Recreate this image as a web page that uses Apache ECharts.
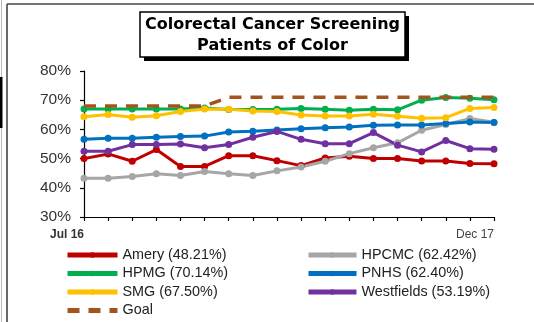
<!DOCTYPE html>
<html>
<head>
<meta charset="utf-8">
<script src="https://cdn.jsdelivr.net/npm/echarts@6/dist/echarts.min.js"></script>
<style>
  html, body { margin: 0; padding: 0; background: #fff; }
  #chart { width: 534px; height: 322px; }
</style>
</head>
<body>
<div id="chart"></div>
<script>
// Monthly screening rates, Jul 2016 – Dec 2017
const months = ['Jul 16', 'Aug 16', 'Sep 16', 'Oct 16', 'Nov 16', 'Dec 16',
  'Jan 17', 'Feb 17', 'Mar 17', 'Apr 17', 'May 17', 'Jun 17',
  'Jul 17', 'Aug 17', 'Sep 17', 'Oct 17', 'Nov 17', 'Dec 17'];

const amery      = [50.0, 51.6, 49.1, 53.1, 47.3, 47.3, 51.0, 51.0, 49.3, 47.6, 50.2, 50.8, 50.0, 50.0, 49.2, 49.2, 48.3, 48.21];
const hpcmc      = [43.3, 43.3, 43.9, 44.8, 44.2, 45.6, 44.8, 44.2, 45.8, 47.1, 49.1, 51.7, 53.7, 55.4, 59.7, 61.7, 63.7, 62.42];
const hpmg       = [67.0, 67.0, 67.0, 67.0, 67.0, 67.3, 66.8, 66.8, 66.9, 67.2, 66.9, 66.6, 66.9, 66.7, 70.0, 70.9, 70.7, 70.14];
const pnhs       = [56.6, 57.0, 57.0, 57.3, 57.6, 57.7, 59.1, 59.4, 59.8, 60.2, 60.6, 60.8, 61.4, 61.5, 61.5, 62.0, 62.5, 62.40];
const smg        = [64.3, 65.1, 64.2, 64.7, 66.1, 67.0, 66.9, 66.3, 66.1, 64.9, 64.6, 64.6, 65.2, 64.5, 63.8, 64.0, 67.2, 67.50];
const westfields = [52.5, 52.5, 54.8, 54.8, 55.0, 53.7, 54.8, 57.3, 59.3, 56.6, 55.1, 55.1, 58.9, 54.6, 52.3, 56.2, 53.4, 53.19];
const goal       = [68, 68, 68, 68, 68, 68, 71, 71, 71, 71, 71, 71, 71, 71, 71, 71, 71, 71];

const yTicks = [30, 40, 50, 60, 70, 80];

const sites = [
  { name: 'Amery',      data: amery,      color: '#C00000' },
  { name: 'HPCMC',      data: hpcmc,      color: '#A6A6A6' },
  { name: 'HPMG',       data: hpmg,       color: '#00B050' },
  { name: 'PNHS',       data: pnhs,       color: '#0070C0' },
  { name: 'SMG',        data: smg,        color: '#FFC000' },
  { name: 'Westfields', data: westfields, color: '#7030A0' }
];

// legend label carries the latest month's rate
const label = s => s.name + ' (' + s.data[s.data.length - 1].toFixed(2) + '%)';

const series = sites.map(s => ({
  name: label(s),
  type: 'line',
  data: s.data,
  color: s.color,
  symbol: 'circle',
  symbolSize: 7,
  lineStyle: { width: 3, color: s.color },
  itemStyle: { color: s.color },
  emphasis: { disabled: true },
  animation: false
}));
series.push({
  name: 'Goal',
  type: 'line',
  data: goal,
  color: '#A3541C',
  symbol: 'none',
  lineStyle: { width: 3.5, color: '#A3541C', type: [12, 9] },
  emphasis: { disabled: true },
  animation: false,
  z: 5
});

const legendText = { fontFamily: 'Liberation Sans, Arial, sans-serif', fontSize: 14.4, lineHeight: 14, color: '#222' };
const legendBase = {
  orient: 'vertical',
  top: 248,
  height: 80,
  padding: 0,
  itemHeight: 7,
  itemGap: 4.5,
  lineStyle: { width: 5 },
  textStyle: legendText,
  selectedMode: false
};

const chart = echarts.init(document.getElementById('chart'), null, { renderer: 'canvas' });
chart.setOption({
  animation: false,
  backgroundColor: '#fff',
  grid: { left: 84, right: 40, top: 71, bottom: 105, containLabel: false },
  xAxis: {
    type: 'category',
    data: months,
    boundaryGap: false,
    axisLine: { lineStyle: { color: '#000', width: 1.2 } },
    axisTick: { show: true, interval: 0, length: 4, lineStyle: { color: '#000', width: 1.2 } },
    axisLabel: {
      interval: 0,
      align: 'right',
      margin: 12,
      formatter: (v, i) => i === 0 ? '{b|' + v + '}' : (i === months.length - 1 ? '{n|' + v + '}' : ''),
      rich: {
        b: { fontFamily: 'Liberation Sans, Arial, sans-serif', fontSize: 12, fontWeight: 'bold', color: '#333' },
        n: { fontFamily: 'Liberation Sans, Arial, sans-serif', fontSize: 12, color: '#444' }
      }
    },
    splitLine: { show: false }
  },
  yAxis: {
    type: 'value',
    min: yTicks[0],
    max: yTicks[yTicks.length - 1],
    interval: 10,
    axisLine: { show: true, lineStyle: { color: '#000', width: 1.2 } },
    axisTick: { show: true, length: 4, lineStyle: { color: '#000', width: 1.2 } },
    axisLabel: {
      margin: 13,
      formatter: '{value}%',
      fontFamily: 'Liberation Sans, Arial, sans-serif',
      fontSize: 15.5,
      color: '#333'
    },
    splitLine: { show: false }
  },
  legend: [
    Object.assign({}, legendBase, {
      left: 65, itemWidth: 50,
      data: [label(sites[0]), label(sites[2]), label(sites[4]), 'Goal']
    }),
    Object.assign({}, legendBase, {
      left: 306, itemWidth: 48,
      data: [label(sites[1]), label(sites[3]), label(sites[5])]
    })
  ],
  graphic: [
    // outer frame
    { type: 'line', shape: { x1: 1.5, y1: 0, x2: 1.5, y2: 322 }, style: { stroke: '#bbb', lineWidth: 1 }, silent: true },
    { type: 'rect', shape: { x: 0, y: 77, width: 2.5, height: 51 }, style: { fill: '#000' }, silent: true },
    { type: 'line', shape: { x1: 7, y1: 4, x2: 534, y2: 4 }, style: { stroke: '#444', lineWidth: 1.6 }, silent: true },
    { type: 'line', shape: { x1: 7, y1: 4, x2: 7, y2: 322 }, style: { stroke: '#444', lineWidth: 1.6 }, silent: true },
    // title box with drop shadow
    { type: 'rect', shape: { x: 144, y: 16, width: 265, height: 45 }, style: { fill: '#000' }, silent: true },
    { type: 'rect', shape: { x: 140, y: 12, width: 265, height: 45 }, style: { fill: '#fff', stroke: '#000', lineWidth: 1.5 }, silent: true },
    {
      type: 'text', x: 272.5, y: 25, silent: true,
      style: { text: 'Colorectal Cancer Screening', fill: '#000', font: 'bold 16px "DejaVu Sans", sans-serif', textAlign: 'center', textVerticalAlign: 'middle' }
    },
    {
      type: 'text', x: 272.5, y: 46, silent: true,
      style: { text: 'Patients of Color', fill: '#000', font: 'bold 16px "DejaVu Sans", sans-serif', textAlign: 'center', textVerticalAlign: 'middle' }
    }
  ],
  series: series
});
</script>
</body>
</html>
